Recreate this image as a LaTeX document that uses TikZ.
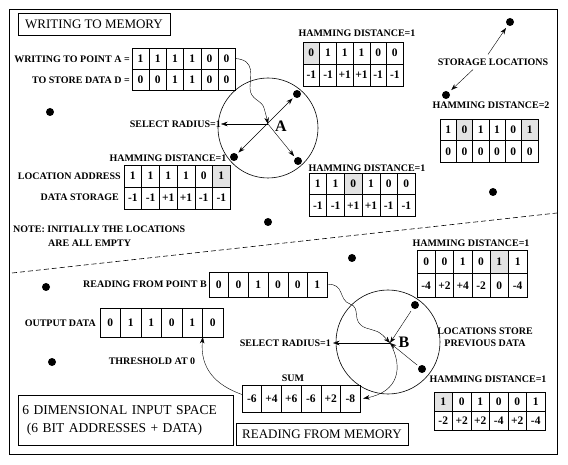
\documentclass[tikz,border=0pt]{standalone}
\usepackage{fontspec}
\setmainfont{Liberation Serif}
\usetikzlibrary{arrows.meta,positioning,calc}
\colorlet{hi}{black!11}

% one row of bit cells: name, left x, top y, cell width, cell height, value/fill list
\newcommand{\bitrow}[6]{%
  \foreach \v/\c [count=\i] in {#6}
    \node[cell, fill=\c, minimum width=#4, minimum height=#5, anchor=north west] (#1-\i) at (#2+\i*#4-#4, #3) {\v};
}

\begin{document}
\begin{tikzpicture}[x=1pt, y=-1pt, >={Stealth[length=6.5pt, width=4.5pt]},
  lbl/.style={font=\fontsize{10}{12}\selectfont\bfseries, inner sep=0pt},
  cell/.style={draw, line width=0.6pt, inner sep=0pt, outer sep=0pt, font=\fontsize{11.5}{12}\selectfont\bfseries},
  dot/.style={circle, fill=black, inner sep=0pt, minimum size=8pt},
  plainbox/.style={draw, line width=0.6pt, font=\fontsize{13}{15}\selectfont, inner sep=0pt},
  zone/.style={draw, circle, line width=0.6pt, inner sep=0pt}]
  \useasboundingbox (0,0) rectangle (568,465);
  \draw[line width=0.7pt] (9,9) rectangle (557,454);
  \draw[dashed, dash pattern=on 5pt off 3pt, line width=0.6pt] (12,273) -- (557,213);

  % writing half
  \node[plainbox, minimum width=152, minimum height=22] (wmem) at (94,24) {WRITING TO MEMORY};
  \node[lbl, anchor=east] (wrA) at (130,59) {WRITING TO POINT A =};
  \node[lbl, anchor=east] (stD) at (130,80) {TO STORE DATA D =};
  \bitrow{wa}{132}{48}{17.2}{21}{1/white,1/white,1/white,1/white,0/white,0/white}
  \bitrow{wd}{132}{69}{17.2}{21}{0/white,0/white,1/white,1/white,0/white,0/white}

  \node[lbl] (hm1) at (357,33) {HAMMING DISTANCE=1};
  \bitrow{ha}{303}{42}{16.7}{22}{0/hi,1/white,1/white,1/white,0/white,0/white}
  \bitrow{hd}{303}{64}{16.7}{22}{-1/white,-1/white,+1/white,+1/white,-1/white,-1/white}

  \node[lbl] (hm2) at (491,105) {HAMMING DISTANCE=2};
  \bitrow{ka}{440}{119}{16.3}{21.5}{1/white,0/hi,1/white,1/white,0/white,1/hi}
  \bitrow{kd}{440}{140.5}{16.3}{21.5}{0/white,0/white,0/white,0/white,0/white,0/white}

  \node[lbl] (hm3) at (367,168) {HAMMING DISTANCE=1};
  \bitrow{ma}{309}{173}{17.7}{21.5}{1/white,1/white,0/hi,1/white,0/white,0/white}
  \bitrow{md}{309}{194.5}{17.7}{21.5}{-1/white,-1/white,+1/white,+1/white,-1/white,-1/white}

  \node[lbl] (hm4) at (168,158) {HAMMING DISTANCE=1};
  \node[lbl, anchor=east] (locad) at (121,176) {LOCATION ADDRESS};
  \node[lbl, anchor=east] (dstor) at (119,197) {DATA STORAGE};
  \bitrow{la}{124}{165}{17.7}{22}{1/white,1/white,1/white,1/white,0/white,1/hi}
  \bitrow{ld}{124}{187}{17.7}{22}{-1/white,-1/white,+1/white,+1/white,-1/white,-1/white}

  \node[lbl, anchor=west] (note1) at (13,229) {NOTE: INITIALLY THE LOCATIONS};
  \node[lbl, anchor=west] (note2) at (48,243) {ARE ALL EMPTY};

  \node[lbl] (st) at (493,62) {STORAGE LOCATIONS};
  \node[dot] (sl1) at (510,22) {};
  \node[dot] (sl2) at (446,95) {};
  \draw[->, shorten >=3pt] ([xshift=-5pt, yshift=4pt]st.north) -- (sl1);
  \draw[->, shorten >=3pt] ([xshift=-20pt, yshift=-4pt]st.south) -- (sl2);

  \node[dot] (dw1) at (50,112) {};
  \node[dot] (dw2) at (268,222) {};
  \node[dot] (dw3) at (493,192) {};

  % circle round point A
  \node[zone, minimum size=100] (circA) at (268,128) {};
  \coordinate (cA) at (268,124);
  \node[font=\fontsize{16}{18}\selectfont\bfseries] (lA) at (281,126) {A};
  \node[dot] (dA1) at (297,94) {};
  \node[dot] (dA2) at (234,157) {};
  \node[dot] (dA3) at (298,161) {};
  \draw[<->, shorten <=2pt, shorten >=2pt] (dA2) -- (dA1);
  \draw[->, shorten >=2pt] (cA) -- (dA3);
  \node[lbl, anchor=east] (srA) at (221,124) {SELECT RADIUS=1};
  \draw[->] (cA) -- (srA.east);
  \draw[->] (wa-6.east) .. controls (256,60) and (250,76) .. (250,88)
    .. controls (250,100) and (262,100) .. (264,108) .. controls (266,115) .. (cA);

  % reading half
  \node[dot] (dr1) at (46,287) {};
  \node[dot] (dr2) at (352,258) {};
  \node[dot] (dr3) at (52,362) {};
  \node[lbl, anchor=east] (rdB) at (207,284) {READING FROM POINT B};
  \bitrow{rb}{209}{272}{19.7}{25}{0/white,0/white,1/white,0/white,0/white,1/white}

  \node[lbl, anchor=east] (outl) at (96,323) {OUTPUT DATA};
  \bitrow{out}{100}{308}{20.5}{29}{0/white,1/white,1/white,0/white,1/white,0/white}
  \node[lbl] (thr) at (152,361) {THRESHOLD AT 0};

  \node[lbl] (suml) at (293,378) {SUM};
  \bitrow{sm}{242}{385}{19.7}{27}{-6/white,+4/white,+6/white,-6/white,+2/white,-8/white}

  \node[plainbox, minimum width=172, minimum height=22] (rmem) at (322,434) {READING FROM MEMORY};
  \node[plainbox, anchor=north west, text width=207, minimum height=50, inner sep=4pt, align=left,
    font=\fontsize{13.5}{18}\selectfont] (space) at (18,395) {6 DIMENSIONAL INPUT SPACE\\ \ (6 BIT ADDRESSES + DATA)};

  \node[lbl] (hm5) at (471,243) {HAMMING DISTANCE=1};
  \bitrow{pa}{417}{250}{18.3}{23.5}{0/white,0/white,1/white,0/white,1/hi,1/white}
  \bitrow{pd}{417}{273.5}{18.3}{23.5}{-4/white,+2/white,+4/white,-2/white,0/white,-4/white}

  \node[lbl, align=center] (prev) at (485,337.5) {LOCATIONS STORE\\PREVIOUS DATA};

  \node[lbl] (hm6) at (488,379) {HAMMING DISTANCE=1};
  \bitrow{qa}{434}{392}{18.5}{19}{1/hi,0/white,1/white,0/white,0/white,1/white}
  \bitrow{qd}{434}{411}{18.5}{19}{-2/white,+2/white,+2/white,-4/white,+2/white,-4/white}

  % circle round point B
  \node[zone, minimum size=104] (circB) at (388,342) {};
  \coordinate (cB) at (390,343);
  \node[font=\fontsize{16}{18}\selectfont\bfseries] (lB) at (404,342) {B};
  \node[dot] (dB1) at (415,305) {};
  \node[dot] (dB2) at (422,369) {};
  \draw[->, shorten <=3pt] (dB1) -- (cB);
  \draw[->, shorten <=2pt] (dB2) -- (cB);
  \node[lbl, anchor=east] (srB) at (331,343) {SELECT RADIUS=1};
  \draw[->] (cB) -- ([xshift=2pt]srB.east);
  \draw[->] (rb-6.east) .. controls (345,283) and (338,300) .. (350,304)
    .. controls (362,308) and (350,322) .. (366,328) .. controls (380,332) .. (cB);
  \draw[->] (cB) .. controls (404,368) and (398,392) .. ([xshift=3pt]sm-6.east);
  \draw[->] ([yshift=4pt]sm-1.west) .. controls (215,385) and (200,368) .. ([xshift=-10pt]out-6.south);
\end{tikzpicture}
\end{document}
